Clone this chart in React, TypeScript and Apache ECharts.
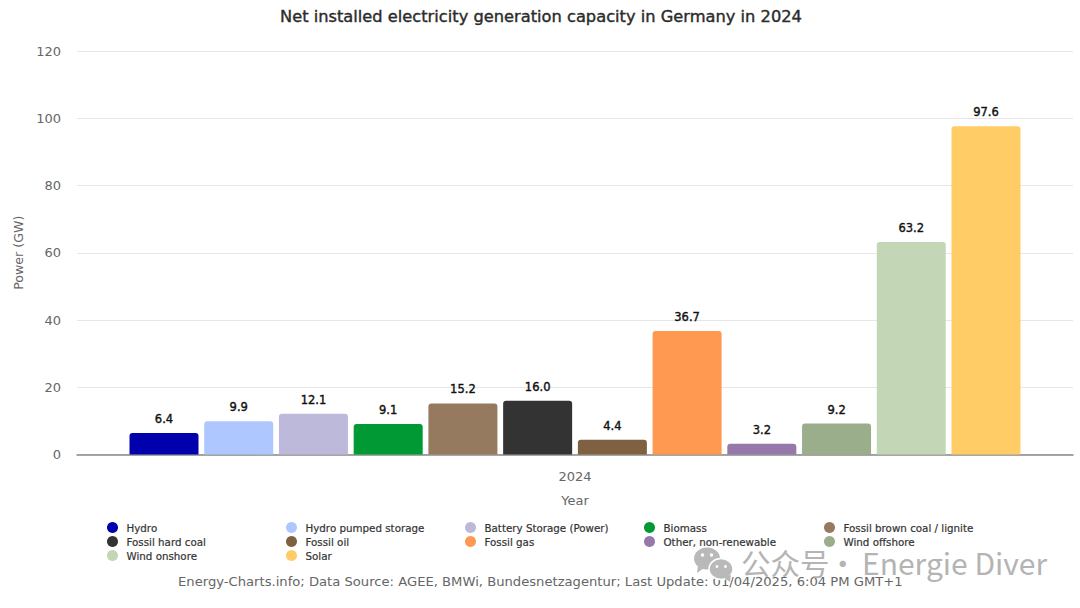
import React, { useEffect, useRef } from "react";
import * as echarts from "echarts";

const titleText = "Net installed electricity generation capacity in Germany in 2024";
const categories = ["2024"];
const seriesNames = ["Hydro", "Hydro pumped storage", "Battery Storage (Power)", "Biomass", "Fossil brown coal / lignite", "Fossil hard coal", "Fossil oil", "Fossil gas", "Other, non-renewable", "Wind offshore", "Wind onshore", "Solar"];
const seriesValues = [6.4, 9.9, 12.1, 9.1, 15.2, 16.0, 4.4, 36.7, 3.2, 9.2, 63.2, 97.6];
const seriesColors = ["#0000ad", "#aec8ff", "#bdb9da", "#009933", "#967a5f", "#333333", "#7f6040", "#ff9850", "#9678aa", "#9bae8c", "#c3d7b6", "#ffcc66"];
const footer = "Energy-Charts.info; Data Source: AGEE, BMWi, Bundesnetzagentur; Last Update: 01/04/2025, 6:04 PM GMT+1";
const watermarkCn = "公众号";
const watermarkDot = "·";
const watermarkEn = "Energie Diver";
const FONT = "DejaVu Sans";

const legendCols = [108, 287, 466, 645, 825];
const legendRows = [522, 536, 550];

export default function App() {
  const ref = useRef<HTMLDivElement>(null);
  useEffect(() => {
    document.body.style.margin = "0";
    const chart = echarts.init(ref.current!, undefined, { renderer: "svg" });
    chart.setOption({
      animation: false,
      backgroundColor: "#ffffff",
      textStyle: { fontFamily: FONT },
      title: {
        text: titleText, left: 280, top: 8, padding: 0,
        textStyle: { fontFamily: FONT, fontSize: 16.25, fontWeight: 400, color: "#2b2b2b", textBorderColor: "#2b2b2b", textBorderWidth: 0.4 },
      },
      grid: { left: 77, right: 7, top: 51, height: 403.5 },
      legend: seriesNames.map((name, i) => ({
        data: [name],
        left: legendCols[i % 5] - 1,
        top: legendRows[Math.floor(i / 5)],
        padding: 0, itemWidth: 12, itemHeight: 11, itemGap: 0,
        icon: "circle", selectedMode: false,
        textStyle: { fontFamily: FONT, fontSize: 10.3, color: "#333333", padding: [0, 0, 0, 3], textBorderColor: "#333333", textBorderWidth: 0.2 },
      })),
      xAxis: {
        type: "category", data: categories,
        name: "Year", nameLocation: "middle", nameGap: 39,
        nameTextStyle: { fontFamily: FONT, fontSize: 13, color: "#666666" },
        axisLine: { lineStyle: { color: "#888888", width: 1.5 } },
        axisTick: { show: false },
        axisLabel: { fontFamily: FONT, fontSize: 13, color: "#666666", margin: 15 },
      },
      yAxis: {
        type: "value", min: 0, max: 120, interval: 20,
        name: "Power (GW)", nameLocation: "middle", nameGap: 48, nameRotate: 90,
        nameTextStyle: { fontFamily: FONT, fontSize: 12.6, color: "#666666" },
        axisLine: { show: false }, axisTick: { show: false },
        splitLine: { lineStyle: { color: "#e6e6e6", width: 1 } },
        axisLabel: { fontFamily: FONT, fontSize: 13, color: "#666666", margin: 16 },
      },
      series: seriesNames.map((name, i) => ({
        name, type: "bar", data: [seriesValues[i]],
        barWidth: 69, barGap: "8.3%",
        itemStyle: { color: seriesColors[i], borderRadius: [3, 3, 0, 0] },
        label: {
          show: true, position: "top", distance: 8,
          formatter: (p: any) => Number(p.value).toFixed(1),
          fontFamily: FONT, fontSize: 11.5, fontWeight: 400, color: "#111111", textBorderColor: "#111111", textBorderWidth: 0.4,
        },
      })),
      graphic: [
        { type: "text", left: 178, top: 575, style: { text: footer, font: `13.15px "${FONT}"`, fill: "#666666" } },
        { type: "ellipse", shape: { cx: 707, cy: 558.5, rx: 13, ry: 11 }, style: { fill: "#b9b9b9" }, z: 20 },
        { type: "polygon", shape: { points: [[698, 565], [704, 568], [697, 573]] }, style: { fill: "#b9b9b9" }, z: 20 },
        { type: "circle", shape: { cx: 702.5, cy: 555, r: 1.7 }, style: { fill: "#ffffff" }, z: 20 },
        { type: "circle", shape: { cx: 711.5, cy: 555, r: 1.7 }, style: { fill: "#ffffff" }, z: 20 },
        { type: "ellipse", shape: { cx: 721, cy: 569, rx: 12, ry: 10.5 }, style: { fill: "#b9b9b9", stroke: "#ffffff", lineWidth: 1.5 }, z: 21 },
        { type: "polygon", shape: { points: [[723, 577], [731, 575], [730, 582]] }, style: { fill: "#b9b9b9" }, z: 21 },
        { type: "circle", shape: { cx: 717, cy: 566.5, r: 1.4 }, style: { fill: "#ffffff" }, z: 22 },
        { type: "circle", shape: { cx: 725.5, cy: 566.5, r: 1.4 }, style: { fill: "#ffffff" }, z: 22 },
        { type: "text", left: 741, top: 547, z: 22, style: { text: watermarkCn, font: `29.5px "Noto Sans CJK SC"`, fill: "#b4b4b4" } },
        { type: "text", left: 828, top: 547, z: 22, style: { text: watermarkDot, font: `29.5px "Noto Sans CJK SC"`, fill: "#b4b4b4" } },
        { type: "text", left: 862, top: 547, z: 22, style: { text: watermarkEn, font: `30px "Noto Sans CJK SC"`, fill: "#b4b4b4" } },
      ],
    });
    return () => chart.dispose();
  }, []);
  return <div ref={ref} style={{ width: 1080, height: 608 }} />;
}
